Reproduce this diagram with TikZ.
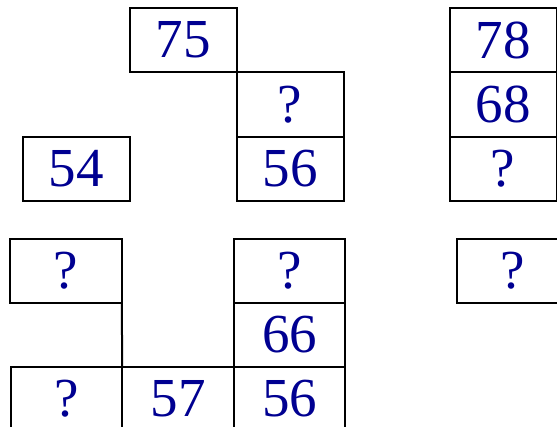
\documentclass[tikz,border=0pt]{standalone}
\usepackage{fontspec}
\setmainfont{Liberation Serif}
\usetikzlibrary{positioning}
\definecolor{numblue}{RGB}{0,0,145}

\begin{document}
\begin{tikzpicture}[x=1pt, y=-1pt,
  node distance=0pt,
  cell/.style={draw, line width=2pt, outer sep=0pt, inner sep=0pt,
    minimum width=107pt, minimum height=64.5pt, text=numblue,
    font=\fontsize{55}{60}\selectfont},
  wcell/.style={cell, minimum width=111.5pt, minimum height=64pt}
]
\useasboundingbox (0,0) rectangle (557,427);

% upper left figure
\node[cell] (top75) at (183,40) {75};
\node[cell, below right=of top75] (topq) {?};
\node[cell, below=of topq] (top56) {56};
\node[cell] (top54) at (76,169) {54};

% upper right column
\node[cell] (col78) at (503,40) {78};
\node[cell, below=of col78] (col68) {68};
\node[cell, below=of col68] (colq) {?};

% lower left figure
\node[wcell] (lowq) at (66,271) {?};
\node[wcell] (low57) at (178,399) {57};
\node[wcell, left=of low57] (lowqb) {?};
\node[wcell, right=of low57] (low56) {56};
\node[wcell, above=of low56] (low66) {66};
\node[wcell, above=of low66] (lowqt) {?};
\draw[line width=2pt] (lowq.south east) -- (low57.north west);

% lower right box
\node[wcell] (ansq) at (513,271) {?};
\end{tikzpicture}
\end{document}
